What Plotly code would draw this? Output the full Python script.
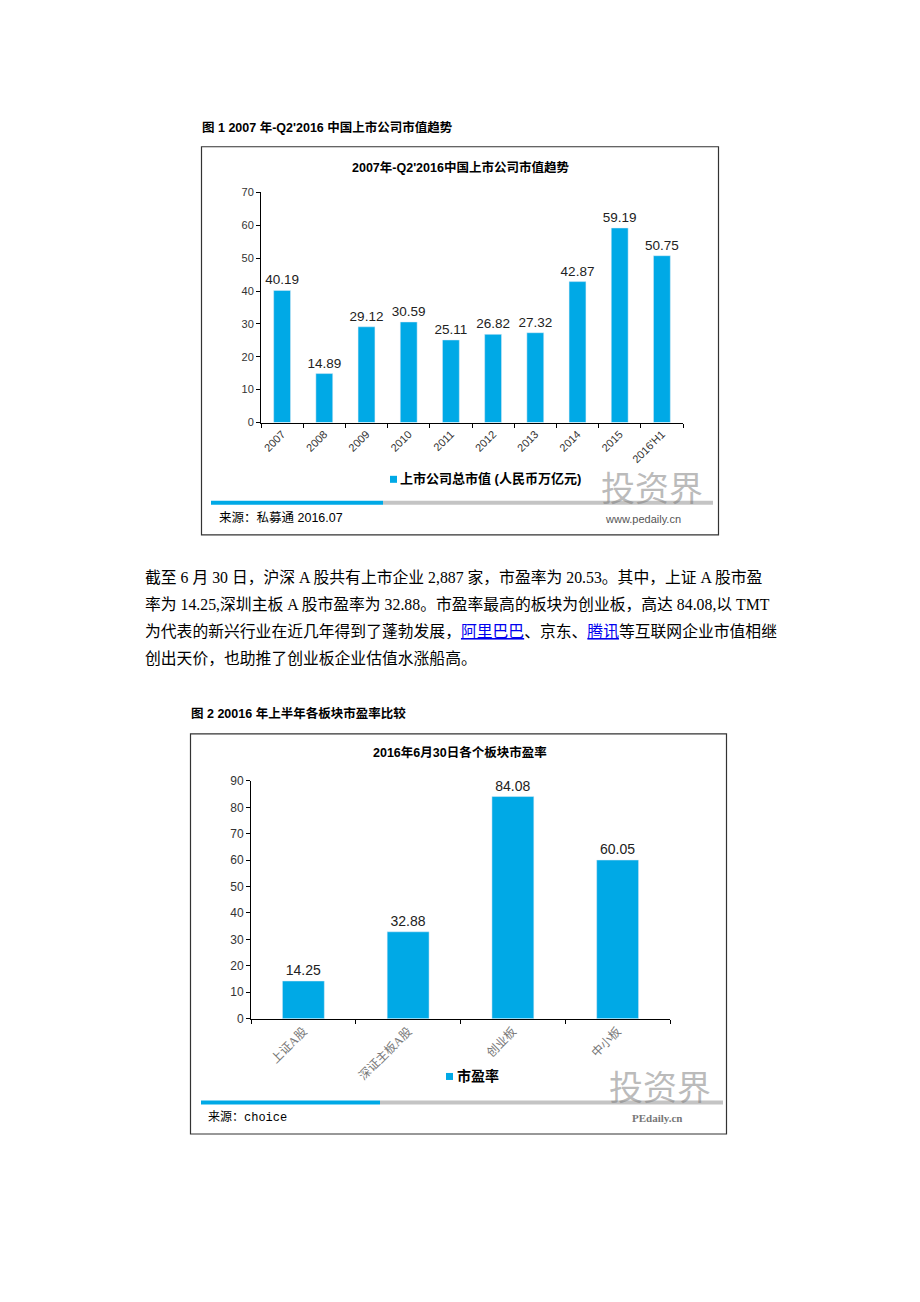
import plotly.graph_objects as go

# chart 1 data
years = ["2007", "2008", "2009", "2010", "2011", "2012", "2013", "2014", "2015", "2016'H1"]
mktcap = [40.19, 14.89, 29.12, 30.59, 25.11, 26.82, 27.32, 42.87, 59.19, 50.75]

# chart 2 data
boards = ["上证A股", "深证主板A股", "创业板", "中小板"]
pe = [14.25, 32.88, 84.08, 60.05]

para = [
    "截至 6 月 30 日，沪深 A 股共有上市企业 2,887 家，市盈率为 20.53。其中，上证 A 股市盈",
    "率为 14.25,深圳主板 A 股市盈率为 32.88。市盈率最高的板块为创业板，高达 84.08,以 TMT",
    "为代表的新兴行业在近几年得到了蓬勃发展，<span style='color:#0000ee;text-decoration:underline'>阿里巴巴</span>、京东、<span style='color:#0000ee;text-decoration:underline'>腾讯</span>等互联网企业市值相继",
    "创出天价，也助推了创业板企业估值水涨船高。",
]

W, H = 920, 1302
OFF = 8  # page body margin
BLUE = "#00a9e6"
CJK = "Noto Sans CJK SC"
SANS = "Liberation Sans, Noto Sans CJK SC"
SERIF = "Liberation Serif, Noto Sans CJK SC"


def px(x):
    return (x - OFF) / W


def py(y):
    # correction measured from the rendered page
    return 1 - ((y - 14.3) / 0.989) / H


fig = go.Figure()

fig.add_trace(go.Bar(
    x=years, y=mktcap, marker_color=BLUE, xaxis="x", yaxis="y", showlegend=False,
    text=[f"{v:.2f}" for v in mktcap], textposition="outside", constraintext="none",
    textfont=dict(family=SANS, size=13.5, color="#222"), cliponaxis=False,
))
fig.add_trace(go.Bar(
    x=boards, y=pe, marker_color=BLUE, xaxis="x2", yaxis="y2", showlegend=False,
    text=[f"{v:.2f}" for v in pe], textposition="outside", constraintext="none",
    textfont=dict(family=SANS, size=14, color="#222"), cliponaxis=False,
))

axstyle = dict(showline=True, linecolor="#000", linewidth=1, showgrid=False,
               zeroline=False, ticks="outside", ticklen=4, tickcolor="#000")

fig.update_layout(
    width=W, height=H, margin=dict(l=0, r=0, t=0, b=0),
    paper_bgcolor="white", plot_bgcolor="white",
    bargap=0.6, showlegend=False,
    xaxis=dict(domain=[px(261), px(683)], anchor="y", type="category",
               tickson="boundaries", tickangle=-45,
               tickfont=dict(family=SANS, size=11, color="#333"), **axstyle),
    yaxis=dict(domain=[py(421.7), py(191.7)], anchor="x", range=[0, 70],
               dtick=10, tickfont=dict(family=SANS, size=11, color="#333"), **axstyle),
    xaxis2=dict(domain=[px(251), px(670)], anchor="y2", type="category",
                tickson="boundaries", tickangle=-45,
                tickfont=dict(family=SERIF, size=12, color="#777"), **axstyle),
    yaxis2=dict(domain=[py(1017.7), py(780)], anchor="x2", range=[0, 90],
                dtick=10, tickfont=dict(family=SANS, size=12, color="#333"), **axstyle),
)

shapes = [
    # chart frames
    dict(type="rect", x0=px(201.5), x1=px(718.5), y0=py(534), y1=py(146),
         line=dict(color="#333", width=1.2)),
    dict(type="rect", x0=px(190.5), x1=px(726.5), y0=py(1133), y1=py(733),
         line=dict(color="#333", width=1.2)),
    # source bars
    dict(type="line", x0=px(383), x1=px(713), y0=py(502), y1=py(502),
         line=dict(color="#c4c4c4", width=4)),
    dict(type="line", x0=px(211), x1=px(383), y0=py(502), y1=py(502),
         line=dict(color=BLUE, width=4)),
    dict(type="line", x0=px(380), x1=px(723), y0=py(1101.5), y1=py(1101.5),
         line=dict(color="#c4c4c4", width=4)),
    dict(type="line", x0=px(201), x1=px(380), y0=py(1101.5), y1=py(1101.5),
         line=dict(color=BLUE, width=4)),
    # legend keys
    dict(type="rect", x0=px(390), x1=px(397), y0=py(482), y1=py(475),
         fillcolor=BLUE, line=dict(width=0)),
    dict(type="rect", x0=px(446), x1=px(453), y0=py(1079), y1=py(1072),
         fillcolor=BLUE, line=dict(width=0)),
]
for s in shapes:
    s.update(xref="paper", yref="paper")
fig.update_layout(shapes=shapes)


def note(x, y, text, size, family=CJK, color="#000", bold=False, anchor="left"):
    fig.add_annotation(x=px(x), y=py(y), xref="paper", yref="paper", text=text,
                       showarrow=False, xanchor=anchor, yanchor="middle",
                       font=dict(family=family, size=size, color=color,
                                 weight="bold" if bold else "normal"))


# captions and titles
note(200, 127, "图 1 2007 年-Q2'2016 中国上市公司市值趋势", 12.5, family=SANS, bold=True)
note(460, 167, "2007年-Q2'2016中国上市公司市值趋势", 12.5, family=SANS, bold=True, anchor="center")
note(189, 713, "图 2 20016 年上半年各板块市盈率比较", 12.5, family=SANS, bold=True)
note(460, 752, "2016年6月30日各个板块市盈率", 12.5, family=SANS, bold=True, anchor="center")

# legends
note(398, 478, "上市公司总市值 (人民币万亿元)", 13, family=SANS, bold=True)
note(455, 1075.5, "市盈率", 14, family=SANS, bold=True)

# sources
note(217, 517, "来源：私募通 2016.07", 12.5, family=SANS)
note(206, 1117, "来源：choice", 12, family="Liberation Mono, Noto Sans CJK SC")

# watermarks
note(652, 486, "投资界", 34, color="rgba(120,120,120,0.5)", anchor="center")
note(643, 518, "www.pedaily.cn", 11, family=SANS, color="#555", anchor="center")
note(660, 1085, "投资界", 34, color="rgba(120,120,120,0.5)", anchor="center")
note(657, 1117, "PEdaily.cn", 11, family=SERIF, color="#777", bold=True, anchor="center")

# paragraph
for i, line in enumerate(para):
    note(143, 577 + 27 * i, line, 15.8, family=SERIF)

fig.write_html("out.html")
